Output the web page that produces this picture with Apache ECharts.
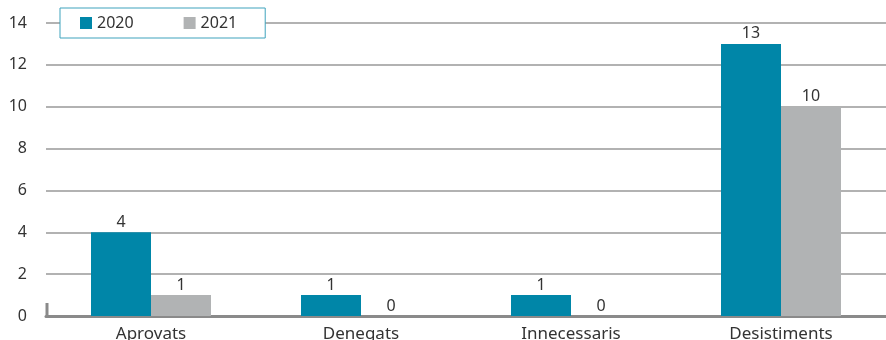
<!DOCTYPE html>
<html>
<head>
<meta charset="utf-8">
<script src="https://cdn.jsdelivr.net/npm/echarts@6/dist/echarts.min.js"></script>
<style>
  html, body { margin: 0; padding: 0; background: #fff; }
  #chart { width: 886px; height: 340px; }
</style>
</head>
<body>
<div id="chart"></div>
<script>
// Dades del gràfic
const categories = ['Aprovats', 'Denegats', 'Innecessaris', 'Desistiments'];
const values2020 = [4, 1, 1, 13];
const values2021 = [1, 0, 0, 10];
const seriesNames = ['2020', '2021'];

const textColor = '#333';
const chart = echarts.init(document.getElementById('chart'));

const labelStyle = { show: true, position: 'top', color: textColor, fontSize: 16, fontFamily: 'Noto Sans', distance: 2 };

chart.setOption({
    animation: false,
    grid: { left: 46, right: 0, top: 23, bottom: 24, outerBoundsMode: 'none' },
    legend: {
        left: 60, top: 8,
        padding: [7, 28, 7, 20],
        itemGap: 50,
        itemWidth: 12, itemHeight: 12,
        icon: 'rect',
        borderColor: '#3fa3bd', borderWidth: 1,
        backgroundColor: '#fff',
        textStyle: { color: textColor, fontSize: 16, fontFamily: 'Noto Sans' },
        data: seriesNames
    },
    xAxis: {
        type: 'category',
        data: categories,
        axisTick: { show: false },
        axisLine: { lineStyle: { color: '#8a8a8a', width: 3 } },
        axisLabel: { color: textColor, fontSize: 17, fontFamily: 'Noto Sans', margin: 10 }
    },
    yAxis: {
        type: 'value',
        min: 0, max: 14, interval: 2,
        axisLine: { show: false },
        axisTick: { show: false },
        axisLabel: { color: textColor, fontSize: 16, fontFamily: 'Noto Sans', margin: 19 },
        splitLine: { lineStyle: { color: '#999', width: 1.5 } }
    },
    series: [
        {
            name: seriesNames[0], type: 'bar', data: values2020,
            barWidth: 60, barGap: '0%',
            itemStyle: { color: '#0086a8' },
            label: labelStyle
        },
        {
            name: seriesNames[1], type: 'bar', data: values2021,
            barWidth: 60,
            itemStyle: { color: '#b1b3b4' },
            label: labelStyle
        }
    ],
    graphic: [{
        type: 'line', z: 10,
        shape: { x1: 47, y1: 303, x2: 47, y2: 316 },
        style: { stroke: '#8a8a8a', lineWidth: 3 }
    }]
});
</script>
</body>
</html>
